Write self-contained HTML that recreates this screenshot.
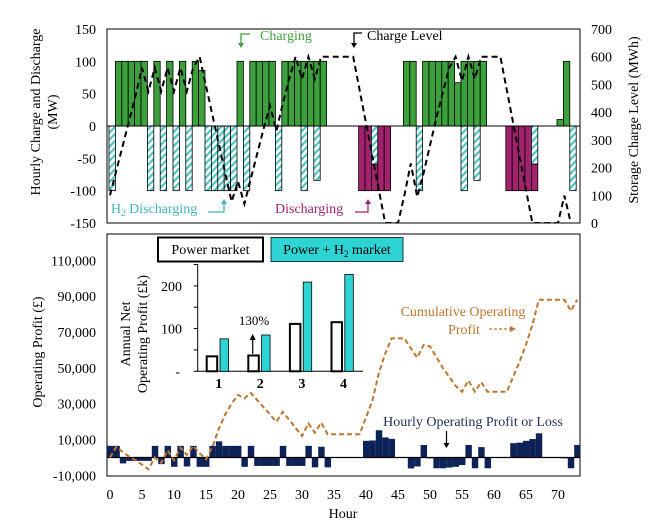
<!DOCTYPE html>
<html><head><meta charset="utf-8">
<style>
html,body{margin:0;padding:0;background:#fff;}
svg{display:block;font-family:"Liberation Serif",serif;}
</style></head>
<body>
<svg id="chart" width="653" height="524" viewBox="0 0 653 524" xmlns="http://www.w3.org/2000/svg">
<defs>
<pattern id="hatch" patternUnits="userSpaceOnUse" width="5" height="5" patternTransform="rotate(45)">
<rect width="5" height="5" fill="#fff"/>
<rect width="2.2" height="5" fill="#4cc4c4"/>
</pattern>
<clipPath id="topclip"><rect x="107" y="29" width="473" height="194"/></clipPath>
<clipPath id="botclip"><rect x="107" y="234" width="473" height="242"/></clipPath>
</defs>
<g id="topPanel"></g>
<g id="bottomPanel"></g>
<g id="insetPanel"></g>
</svg>
<script>
// ---- Top panel data (hours 0..72) ----
const chargeMW = [0,100,100,100,100,100,0,100,0,100,
0,100,0,100,86,0,0,0,0,0,
100,0,100,100,100,100,0,100,100,100,
100,100,100,100,0,0,0,0,0,0,
0,0,0,0,0,0,100,100,0,100,
100,100,100,100,67,100,100,100,100,0,
0,0,0,0,0,0,0,0,0,0,
10,100,0];
const h2DischargeMW = [100,0,0,0,0,0,100,0,100,0,
100,0,100,0,0,100,100,100,100,100,
0,100,0,0,0,0,100,0,0,0,
100,0,84,0,0,0,0,0,0,0,
0,59,0,0,0,0,0,0,100,0,
0,0,0,0,0,100,0,84,0,0,
0,0,0,0,0,0,59,0,0,0,
0,0,100];
const dischargeMW = [0,0,0,0,0,0,0,0,0,0,
0,0,0,0,0,0,0,0,0,0,
0,0,0,0,0,0,0,0,0,0,
0,0,0,0,0,0,0,0,0,100,
100,41,100,100,0,0,0,0,0,0,
0,0,0,0,0,0,0,0,0,0,
0,0,100,100,100,100,41,0,0,0,
0,0,0];
const chargeLevelMWh = [100,190,280,370,460,560,475,560,475,560,
475,560,475,560,600,495,390,285,180,77,
150,69,160,250,340,423,333,430,520,600,
520,600,520,600,600,600,600,600,600,480,
360,240,120,0,0,0,100,215,94,180,
280,380,470,560,600,513,600,520,600,600,
600,600,480,360,240,120,0,0,0,0,
0,99,0];
const topLeftTicks = [150,100,50,0,-50,-100,-150];
const topRightTicks = [700,600,500,400,300,200,100,0];

// ---- Bottom panel data (hours 0..73) ----
const hourlyProfit = [6500,6500,-3300,-1900,-1900,-1900,-1900,6500,-3700,6500,
-5200,6500,-5000,6500,-5200,-5200,6500,9000,6500,6500,
6500,-5200,6500,-4700,-4700,-4700,-4700,6500,-4700,-4700,
-4700,6500,-5500,6000,-5500,0,0,0,0,0,
9300,9500,15200,11200,10400,0,0,-6100,-5000,7000,
-500,-6000,-6000,-5600,-5200,-4200,7000,-6000,5800,-6000,
0,0,0,8000,8300,9300,10300,13500,0,0,
0,-500,-6000,7000];
const cumulativeProfit = [0,6000,3000,500,-1500,-4000,-6600,0,-3000,4000,
-1500,5500,1400,6500,2400,-1000,6000,16000,24000,30000,
35000,33000,36000,32000,28000,24000,20000,25500,21000,16500,
12000,19000,13800,19400,13000,13000,13000,13000,13000,13000,
22300,31800,47000,58000,66500,66500,66500,61000,55700,62800,
62000,56000,50000,45000,40000,36700,43000,36700,42000,36700,
36700,36700,36700,45000,53500,63000,74000,88000,88000,88000,
88000,88000,81800,88000];
const bottomYTicks = [110000,90000,70000,50000,30000,10000,-10000];
const bottomYTickLabels = ["110,000","90,000","70,000","50,000","30,000","10,000","-10,000"];
const xTicks = [0,5,10,15,20,25,30,35,40,45,50,55,60,65,70];

// ---- Inset data ----
const insetCategories = ["1","2","3","4"];
const powerMarket = [35,37,111,115];
const powerH2Market = [76,85,209,227];
const insetTicks = [200,100];

const NS = "http://www.w3.org/2000/svg";
function mk(parent, tag, attrs, text){
  const e = document.createElementNS(NS, tag);
  for (const k in attrs) e.setAttribute(k, attrs[k]);
  if (text !== undefined) e.textContent = text;
  parent.appendChild(e);
  return e;
}

const xTopL = h => 109 + 6.4*h;
const xLine = h => 110 + 6.4*h;
const xBotL = h => 107 + 6.4*h;
const yMW = v => 126 - v*(97/150);
const yMWh = v => 223 - v*(194/700);
const yProfit = v => 457.5 - v*0.001792;
const yIn = v => 371.3 - v*0.427;

// ===== TOP PANEL =====
const topG = document.getElementById('topPanel');
mk(topG,'rect',{x:107,y:29,width:473,height:194,fill:'#fff',stroke:'#000','stroke-width':1});
const topBars = mk(topG,'g',{'clip-path':'url(#topclip)'});
for (let h=0; h<chargeMW.length; h++){
  if (chargeMW[h]>0){
    const r = mk(topBars,'rect',{x:xTopL(h),y:yMW(chargeMW[h]),width:6.4,height:yMW(0)-yMW(chargeMW[h]),fill:'#3ca03c',stroke:'#000','stroke-width':0.8});
    
    
  }
  if (h2DischargeMW[h]>0){
    const r = mk(topBars,'rect',{x:xTopL(h),y:yMW(0),width:6.4,height:yMW(-h2DischargeMW[h])-yMW(0),fill:'url(#hatch)',stroke:'#000','stroke-width':0.8});
    
    
  }
  if (dischargeMW[h]>0){
    const s = -h2DischargeMW[h];
    const r = mk(topBars,'rect',{x:xTopL(h),y:yMW(s),width:6.4,height:yMW(s-dischargeMW[h])-yMW(s),fill:'#a3226e',stroke:'#000','stroke-width':0.8});
    
    
  }
}
mk(topG,'line',{x1:107,x2:580,y1:yMW(0),y2:yMW(0),stroke:'#000','stroke-width':1});
const lvlPts = chargeLevelMWh.map((v,h)=>xLine(h)+','+yMWh(v)).join(' ');
const lvl = mk(topG,'polyline',{points:lvlPts,fill:'none',stroke:'#000','stroke-width':2,'stroke-dasharray':'6,4','clip-path':'url(#topclip)'});


mk(topG,'rect',{x:107,y:29,width:473,height:194,fill:'none',stroke:'#000','stroke-width':1});
topLeftTicks.forEach(v=>{
  const t = mk(topG,'text',{x:96,y:yMW(v)+5,'text-anchor':'end','font-size':14},String(v));
  
  
});
topRightTicks.forEach(v=>{
  const t = mk(topG,'text',{x:591,y:yMWh(v)+5,'text-anchor':'start','font-size':14},String(v));
  
  
});

let g = mk(topG,'g',{});


mk(g,'text',{x:0,y:0,'font-size':14,'text-anchor':'middle',transform:'translate(40,112) rotate(-90)'},'Hourly Charge and Discharge');
mk(g,'text',{x:0,y:0,'font-size':14,'text-anchor':'middle',transform:'translate(57,112) rotate(-90)'},'(MW)');
let rt = mk(topG,'text',{x:0,y:0,'font-size':14,'text-anchor':'middle',transform:'translate(638,120) rotate(-90)'},'Storage Charge Level (MWh)');


let a = mk(topG,'g',{});


mk(a,'path',{d:'M250 34 H241 V45',fill:'none',stroke:'#3ca03c','stroke-width':1.3});
mk(a,'path',{d:'M238 43 L241 48 L244 43 Z',fill:'#3ca03c'});
mk(a,'text',{x:260,y:40,'font-size':14,fill:'#3ca03c'},'Charging');
a = mk(topG,'g',{});


mk(a,'path',{d:'M362 33 H354 V45',fill:'none',stroke:'#000','stroke-width':1.3});
mk(a,'path',{d:'M351 43 L354 48 L357 43 Z',fill:'#000'});
mk(a,'text',{x:367,y:40,'font-size':14,fill:'#000'},'Charge Level');
a = mk(topG,'g',{});


const t1 = mk(a,'text',{x:111,y:213,'font-size':14,fill:'#3fb6b6'});
t1.innerHTML = 'H<tspan font-size="9" dy="3">2</tspan><tspan dy="-3"> Discharging</tspan>';
mk(a,'path',{d:'M208 212 H224 V202',fill:'none',stroke:'#3fb6b6','stroke-width':1.3});
mk(a,'path',{d:'M221 204 L224 199 L227 204 Z',fill:'#3fb6b6'});
a = mk(topG,'g',{});


mk(a,'text',{x:275,y:213,'font-size':14,fill:'#a3226e'},'Discharging');
mk(a,'path',{d:'M355 212 H368 V202',fill:'none',stroke:'#a3226e','stroke-width':1.3});
mk(a,'path',{d:'M365 204 L368 199 L371 204 Z',fill:'#a3226e'});

// ===== BOTTOM PANEL =====
const bot = document.getElementById('bottomPanel');
mk(bot,'rect',{x:107,y:234,width:473,height:242,fill:'none',stroke:'#000','stroke-width':1});
const bars = mk(bot,'g',{'clip-path':'url(#botclip)'});
for (let h=0; h<hourlyProfit.length; h++){
  const v = hourlyProfit[h];
  if (v===0) continue;
  const y0 = yProfit(0), y1 = yProfit(v);
  const r = mk(bars,'rect',{x:xBotL(h),y:Math.min(y0,y1),width:6.45,height:Math.abs(y1-y0),fill:'#0d2257'});
  
  
}
mk(bot,'line',{x1:107,x2:580,y1:yProfit(0),y2:yProfit(0),stroke:'#000','stroke-width':1.2});
const cumPts = cumulativeProfit.map((v,h)=>xLine(h)+','+yProfit(v)).join(' ');
const cl = mk(bot,'polyline',{points:cumPts,fill:'none',stroke:'#c0752f','stroke-width':2,'stroke-dasharray':'5,3','clip-path':'url(#botclip)'});


bottomYTicks.forEach((v,i)=>{
  const t = mk(bot,'text',{x:96,y:yProfit(v)+5,'text-anchor':'end','font-size':14},bottomYTickLabels[i]);
  
  
});
xTicks.forEach(v=>{
  const t = mk(bot,'text',{x:xLine(v),y:499,'text-anchor':'middle','font-size':14},String(v));
  
  
});
let tt = mk(bot,'text',{x:343,y:518,'text-anchor':'middle','font-size':14},'Hour');


tt = mk(bot,'text',{x:0,y:0,'text-anchor':'middle','font-size':14,transform:'translate(42,352) rotate(-90)'},'Operating Profit (£)');


a = mk(bot,'g',{});


mk(a,'text',{x:463,y:316,'text-anchor':'middle','font-size':14,fill:'#c0752f'},'Cumulative  Operating');
mk(a,'text',{x:464,y:334,'text-anchor':'middle','font-size':14,fill:'#c0752f'},'Profit');
mk(a,'line',{x1:489,x2:511,y1:329,y2:329,stroke:'#c0752f','stroke-width':1.3,'stroke-dasharray':'3,2'});
mk(a,'path',{d:'M510 326 L516 329 L510 332 Z',fill:'#c0752f'});
a = mk(bot,'g',{});


mk(a,'text',{x:473,y:426,'text-anchor':'middle','font-size':14,fill:'#1f2f5f'},'Hourly  Operating Profit or Loss');
mk(a,'line',{x1:446.5,x2:446.5,y1:431,y2:445,stroke:'#000','stroke-width':1.2});
mk(a,'path',{d:'M443.5 443 L446.5 448 L449.5 443 Z',fill:'#000'});

// ===== INSET =====
const ins = document.getElementById('insetPanel');
let lg = mk(ins,'g',{});


mk(lg,'rect',{x:158,y:237.5,width:105,height:24,fill:'#fff',stroke:'#000','stroke-width':2});
mk(lg,'text',{x:210.5,y:254,'text-anchor':'middle','font-size':14},'Power market');
lg = mk(ins,'g',{});


mk(lg,'rect',{x:271,y:237.5,width:132,height:24,fill:'#2ed3d3',stroke:'#1a3a3a','stroke-width':1});
const lt = mk(lg,'text',{x:337,y:254,'text-anchor':'middle','font-size':14});
lt.innerHTML = 'Power + H<tspan font-size="9" dy="3">2</tspan><tspan dy="-3"> market</tspan>';
mk(ins,'line',{x1:197.7,x2:197.7,y1:264,y2:371.3,stroke:'#000','stroke-width':1});
mk(ins,'line',{x1:197.7,x2:363,y1:371.3,y2:371.3,stroke:'#000','stroke-width':1});
[0,50,100,150,200,250].forEach(v=>{
  mk(ins,'line',{x1:193.7,x2:197.7,y1:yIn(v),y2:yIn(v),stroke:'#000','stroke-width':1});
});
insetTicks.forEach(v=>{
  const t = mk(ins,'text',{x:182,y:yIn(v)+5,'text-anchor':'end','font-size':14},String(v));
  
  
});
mk(ins,'text',{x:180,y:376,'text-anchor':'end','font-size':14},'-');
insetCategories.forEach((c,i)=>{
  const gx = 206.7 + 41.6*i;
  const wb = mk(ins,'rect',{x:gx,y:yIn(powerMarket[i]),width:10.5,height:yIn(0)-yIn(powerMarket[i]),fill:'#fff',stroke:'#000','stroke-width':2});
  
  
  const cb = mk(ins,'rect',{x:gx+13.3,y:yIn(powerH2Market[i]),width:8.5,height:yIn(0)-yIn(powerH2Market[i]),fill:'#2ed3d3',stroke:'#000','stroke-width':0.8});
  
  
  const t = mk(ins,'text',{x:gx+12,y:388,'text-anchor':'middle','font-size':14,'font-weight':'bold'},c);
  
  
});
let pc = mk(ins,'g',{});


mk(pc,'text',{x:254,y:325,'text-anchor':'middle','font-size':13},'130%');
mk(pc,'line',{x1:252.7,x2:252.7,y1:354,y2:338,stroke:'#000','stroke-width':1.2});
mk(pc,'path',{d:'M249.7 340 L252.7 334 L255.7 340 Z',fill:'#000'});
let yt = mk(ins,'g',{});


mk(yt,'text',{x:0,y:0,'text-anchor':'middle','font-size':14,transform:'translate(130,334) rotate(-90)'},'Annual Net');
mk(yt,'text',{x:0,y:0,'text-anchor':'middle','font-size':14,transform:'translate(147,334) rotate(-90)'},'Operating Profit (£k)');
</script>
</body></html>
